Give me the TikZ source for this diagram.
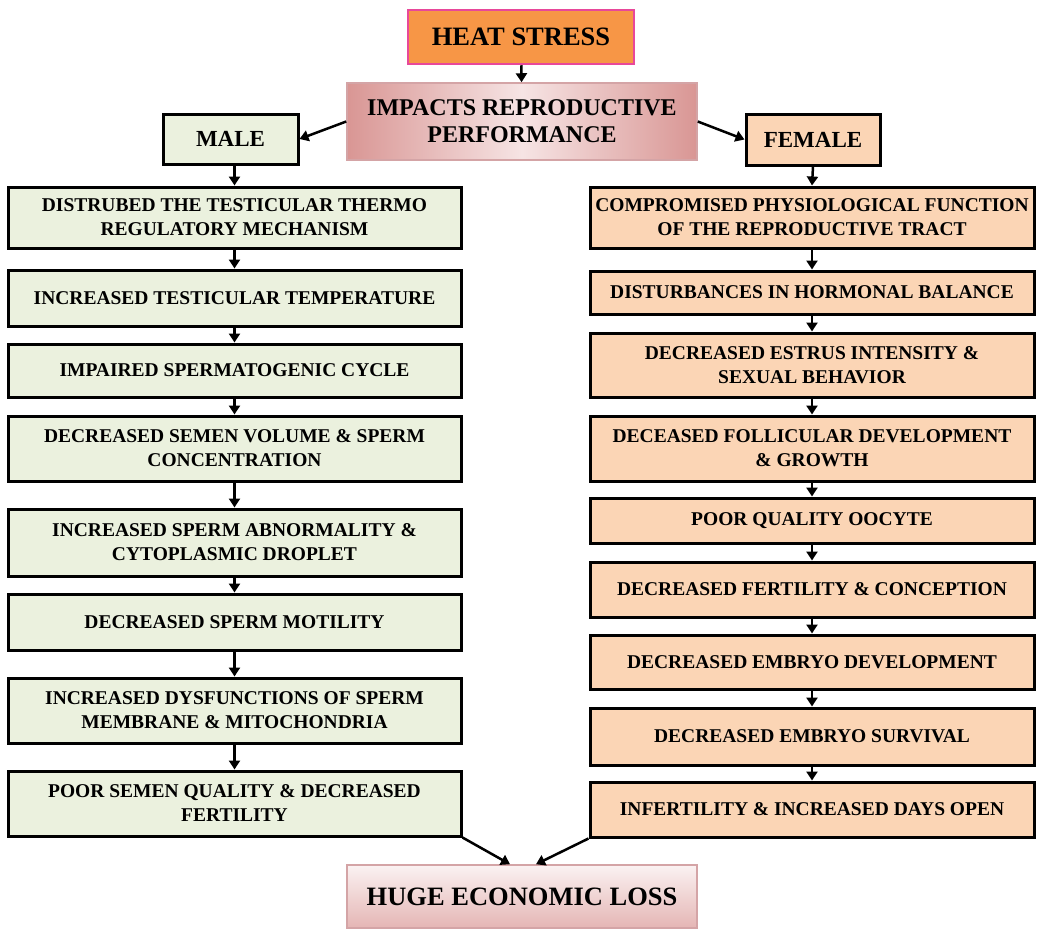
\documentclass[tikz,border=0pt]{standalone}
\usepackage{fontspec}
\setmainfont{Liberation Serif}
\usetikzlibrary{arrows.meta}
\definecolor{malefill}{HTML}{EBF1DE}
\definecolor{femalefill}{HTML}{FBD5B5}
\definecolor{heatfill}{HTML}{F79646}
\definecolor{heatline}{HTML}{E8489A}
\definecolor{rosedark}{HTML}{D99694}
\definecolor{roselight}{HTML}{F6E4E4}
\definecolor{roseline}{HTML}{D4A4A6}

\begin{document}
\begin{tikzpicture}[x=1pt,y=-1pt,
    box/.style={draw=black,line width=3pt,align=center,inner sep=2pt,
      font=\fontsize{19.5}{24}\selectfont\bfseries},
    malebox/.style={box,fill=malefill,minimum width=453pt},
    femalebox/.style={box,fill=femalefill,minimum width=444pt},
    arr/.style={-{Triangle[length=9pt,width=11pt]},line width=2.5pt}]
  \useasboundingbox (0,0) rectangle (1039,929);

  % top
  \node[draw=heatline,line width=2.5pt,fill=heatfill,minimum width=226pt,minimum height=54pt,
    font=\fontsize{26.5}{30}\selectfont\bfseries] (heat) at (521,37) {HEAT STRESS};
  \node[draw=roseline,line width=1.5pt,left color=rosedark,right color=rosedark,middle color=roselight,
    minimum width=350pt,minimum height=77pt,align=center,
    font=\fontsize{24}{27}\selectfont\bfseries] (impact) at (522,121.5) {IMPACTS REPRODUCTIVE\\PERFORMANCE};
  \node[box,fill=malefill,minimum width=135pt,minimum height=50pt,font=\fontsize{23}{26}\selectfont\bfseries] (male) at (230.5,139) {MALE};
  \node[box,fill=femalefill,minimum width=134pt,minimum height=51pt,font=\fontsize{23}{26}\selectfont\bfseries] (female) at (813,139.5) {FEMALE};
  \draw[arr] (heat) -- (impact);
  \draw[arr] (impact.west) -- (male.east);
  \draw[arr] (impact.east) -- (female.west);

  % male column
  \foreach \i/\t/\b/\txt in {%
  1/187/248/{DISTRUBED THE TESTICULAR THERMO\\REGULATORY MECHANISM},
  2/270/326/{INCREASED TESTICULAR TEMPERATURE},
  3/344/397/{IMPAIRED SPERMATOGENIC CYCLE},
  4/416/481/{DECREASED SEMEN VOLUME \& SPERM\\CONCENTRATION},
  5/509/576/{INCREASED SPERM ABNORMALITY \&\\CYTOPLASMIC DROPLET},
  6/594/650/{DECREASED SPERM MOTILITY},
  7/678/743/{INCREASED DYSFUNCTIONS OF SPERM\\MEMBRANE \& MITOCHONDRIA},
  8/771/836/{POOR SEMEN QUALITY \& DECREASED\\FERTILITY}}{
    \node[malebox,minimum height={(\b-\t)*1pt}] (m\i) at (234.5,{(\t+\b)/2}) {\txt};
  }

  % female column
  \foreach \i/\t/\b/\txt in {%
  1/187/248/{COMPROMISED PHYSIOLOGICAL FUNCTION\\OF THE REPRODUCTIVE TRACT},
  2/271/314/{DISTURBANCES IN HORMONAL BALANCE},
  3/333/397/{DECREASED ESTRUS INTENSITY \&\\SEXUAL BEHAVIOR},
  4/416/481/{DECEASED FOLLICULAR DEVELOPMENT\\\& GROWTH},
  5/498/543/{POOR QUALITY OOCYTE},
  6/562/617/{DECREASED FERTILITY \& CONCEPTION},
  7/635/689/{DECREASED EMBRYO DEVELOPMENT},
  8/708/765/{DECREASED EMBRYO SURVIVAL},
  9/782/837/{INFERTILITY \& INCREASED DAYS OPEN}}{
    \node[femalebox,minimum height={(\b-\t)*1pt}] (f\i) at (812,{(\t+\b)/2}) {\txt};
  }

  % arrows down the columns
  \draw[arr] (m1.north |- male.south) -- (m1.north);
  \draw[arr] (female.south) -- (f1.north);
  \foreach \i [evaluate=\i as \j using int(\i+1)] in {1,...,7}
    \draw[arr] (m\i.south) -- (m\j.north);
  \foreach \i [evaluate=\i as \j using int(\i+1)] in {1,...,8}
    \draw[arr] (f\i.south) -- (f\j.north);

  % bottom
  \node[draw=roseline,line width=1.5pt,top color=roselight!50!white,bottom color=rosedark!70!white,
    minimum width=350pt,minimum height=63pt,
    font=\fontsize{26.5}{30}\selectfont\bfseries] (loss) at (522,896.5) {HUGE ECONOMIC LOSS};
  \draw[arr] (m8.south east) -- ([xshift=-12pt]loss.north);
  \draw[arr] (f9.south west) -- ([xshift=14pt]loss.north);
\end{tikzpicture}
\end{document}
